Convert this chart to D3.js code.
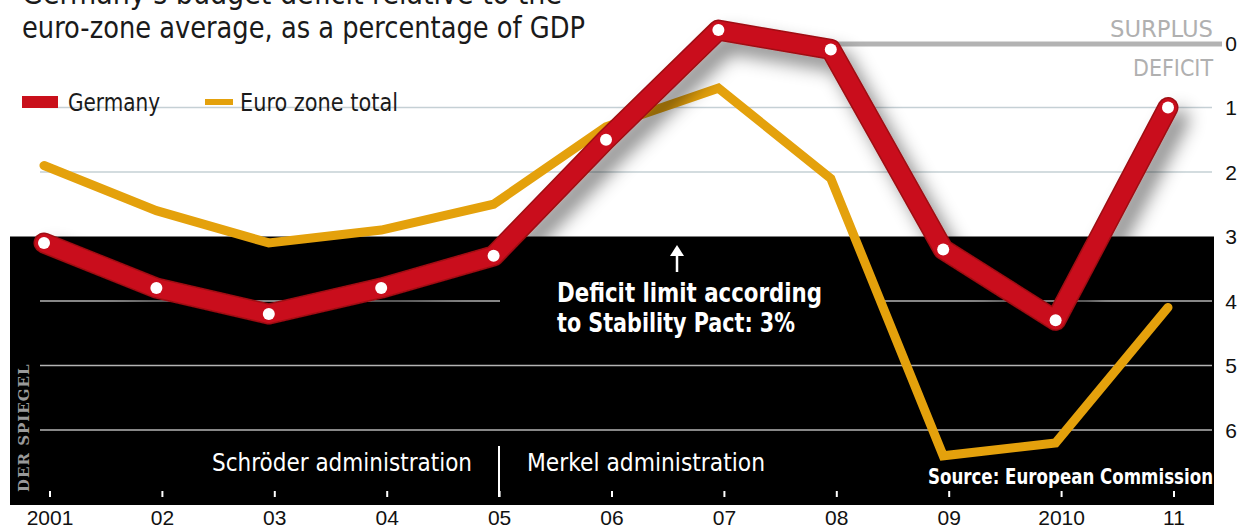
<!DOCTYPE html>
<html><head><meta charset="utf-8">
<script src="https://cdn.jsdelivr.net/npm/d3@7/dist/d3.min.js"></script>
<style>
html,body{margin:0;padding:0;background:#fff;}
svg{display:block;}
.nar{font-family:"DejaVu Sans Condensed","DejaVu Sans",sans-serif;font-stretch:condensed;}
</style></head>
<body><svg id="c" width="1254" height="530"></svg>
<script>
const years = ["2001","02","03","04","05","06","07","08","09","2010","11"];
const germany = [3.1, 3.8, 4.2, 3.8, 3.3, 1.5, -0.2, 0.1, 3.2, 4.3, 1.0];
const eurozone = [1.9, 2.6, 3.1, 2.9, 2.5, 1.3, 0.7, 2.1, 6.4, 6.2, 4.1];
const yTicks = [0, 1, 2, 3, 4, 5, 6];
const titleLines = ["Germany's budget deficit relative to the", "euro-zone average, as a percentage of GDP"];
const legendItems = [{name:"Germany", key:"de"}, {name:"Euro zone total", key:"ez"}];

const RED = "#c9101b", YEL = "#e4a10c";
const svg = d3.select("#c");

function fit(sel, w) {
  sel.each(function(){
    const n = this.getComputedTextLength();
    if (n > 0) d3.select(this).attr("textLength", w).attr("lengthAdjust","spacingAndGlyphs");
  });
  return sel;
}

const x = d3.scalePoint().domain(years).range([44, 1168]);
const y = d3.scaleLinear().domain([0, 6]).range([43, 430]);

const defs = svg.append("defs");
const f = defs.append("filter").attr("id","sh").attr("x","-20%").attr("y","-20%").attr("width","140%").attr("height","160%");
f.append("feDropShadow").attr("dx",10).attr("dy",12).attr("stdDeviation",9).attr("flood-color","#000").attr("flood-opacity",0.45);

// black area below 3% limit
svg.append("rect").attr("x",10).attr("y",y(3)).attr("width",1204).attr("height",505 - y(3)).attr("fill","#000");

// gridlines in white area
svg.selectAll("line.gw").data([1,2]).join("line")
  .attr("x1",40).attr("x2",1212).attr("y1",d=>y(d)).attr("y2",d=>y(d))
  .attr("stroke","#c5d0d5").attr("stroke-width",1.5);
// gridlines in black area
svg.append("line").attr("x1",40).attr("x2",500).attr("y1",y(4)).attr("y2",y(4)).attr("stroke","#b4b4b4").attr("stroke-width",1.5);
svg.append("line").attr("x1",880).attr("x2",1212).attr("y1",y(4)).attr("y2",y(4)).attr("stroke","#b4b4b4").attr("stroke-width",1.5);
svg.selectAll("line.gb").data([5,6]).join("line")
  .attr("x1",40).attr("x2",1212).attr("y1",d=>y(d)).attr("y2",d=>y(d))
  .attr("stroke","#b4b4b4").attr("stroke-width",1.5);
// zero line
svg.append("line").attr("x1",835).attr("x2",1222).attr("y1",y(0)+1).attr("y2",y(0)+1).attr("stroke","#b3b3b3").attr("stroke-width",5);

fit(svg.append("text").attr("class","nar").attr("x",1110).attr("y",y(0)-6)
  .attr("font-size",23).attr("fill","#b0b0b0").text("SURPLUS"), 103);
fit(svg.append("text").attr("class","nar").attr("x",1133).attr("y",y(0)+33)
  .attr("font-size",23).attr("fill","#b0b0b0").text("DEFICIT"), 80);

// y axis labels
svg.selectAll("text.yt").data(yTicks).join("text")
  .attr("x",1231).attr("y",d=>y(d)).attr("dy","0.36em").attr("text-anchor","middle")
  .attr("font-family","Liberation Sans, Arial, sans-serif").attr("font-size",21).attr("fill","#111").text(d=>d);

// x axis ticks and labels
const tickOff = 6;
svg.selectAll("line.xt").data(years).join("line")
  .attr("x1",d=>x(d)+tickOff).attr("x2",d=>x(d)+tickOff).attr("y1",491).attr("y2",497)
  .attr("stroke","#fff").attr("stroke-width",2);
svg.selectAll("text.xl").data(years).join("text")
  .attr("x",d=>x(d)+tickOff).attr("y",525).attr("text-anchor","middle")
  .attr("font-family","Liberation Sans, Arial, sans-serif").attr("font-size",21).attr("fill","#111").text(d=>d);

// administrations
svg.append("line").attr("x1",499).attr("x2",499).attr("y1",446).attr("y2",497).attr("stroke","#fff").attr("stroke-width",2);
fit(svg.append("text").attr("class","nar").attr("x",212).attr("y",471)
  .attr("font-size",24).attr("fill","#fff").text("Schröder administration"), 260);
fit(svg.append("text").attr("class","nar").attr("x",527).attr("y",471)
  .attr("font-size",24).attr("fill","#fff").text("Merkel administration"), 238);
fit(svg.append("text").attr("class","nar").attr("x",928).attr("y",484)
  .attr("font-size",21).attr("font-weight","bold").attr("fill","#fff").text("Source: European Commission"), 285);

// DER SPIEGEL
svg.append("text").attr("transform","translate(29,492) rotate(-90)")
  .attr("font-family","DejaVu Serif, serif").attr("font-weight","bold").attr("font-size",15)
  .attr("fill","#9a9a9a").attr("letter-spacing",1).text("DER SPIEGEL");

// annotation
svg.append("line").attr("x1",677).attr("x2",677).attr("y1",272).attr("y2",252).attr("stroke","#fff").attr("stroke-width",2.5);
svg.append("path").attr("d","M670,256 L677,245 L684,256 Z").attr("fill","#fff");
fit(svg.append("text").attr("class","nar").attr("x",557).attr("y",302).attr("font-size",27).attr("font-weight","bold").attr("fill","#fff").text("Deficit limit according"), 265);
fit(svg.append("text").attr("class","nar").attr("x",557).attr("y",332).attr("font-size",27).attr("font-weight","bold").attr("fill","#fff").text("to Stability Pact: 3%"), 238);

// lines
const line = d3.line().x((d,i)=>x(years[i])).y(d=>y(d));
svg.append("path").datum(eurozone).attr("d",line).attr("fill","none")
  .attr("stroke",YEL).attr("stroke-width",9).attr("stroke-linejoin","miter").attr("stroke-linecap","round");

const gDe = svg.append("g").attr("filter","url(#sh)");
gDe.append("path").datum(germany).attr("d",line).attr("fill","none")
  .attr("stroke","#9e0a12").attr("stroke-width",21).attr("stroke-linejoin","round").attr("stroke-linecap","round");
gDe.append("path").datum(germany).attr("d",line).attr("fill","none")
  .attr("stroke",RED).attr("stroke-width",18).attr("stroke-linejoin","round").attr("stroke-linecap","round");
svg.selectAll("circle.dot").data(germany).join("circle")
  .attr("cx",(d,i)=>x(years[i])).attr("cy",d=>y(d)).attr("r",6).attr("fill","#fff");

// title
const tt = svg.selectAll("text.title").data(titleLines).join("text").attr("class","nar")
  .attr("x",22).attr("y",(d,i)=>4 + i*34).attr("font-size",31).attr("fill","#1a1a1a").text(d=>d);
fit(tt.filter((d,i)=>i===1), 563);
fit(tt.filter((d,i)=>i===0), 540);

// legend
const lg = svg.append("g");
lg.append("rect").attr("x",22).attr("y",96).attr("width",36).attr("height",12).attr("fill",RED);
fit(lg.append("text").attr("class","nar").attr("x",68).attr("y",111).attr("font-size",25).attr("fill","#1a1a1a").text(legendItems[0].name), 92);
lg.append("rect").attr("x",205).attr("y",99).attr("width",28).attr("height",6).attr("fill",YEL);
fit(lg.append("text").attr("class","nar").attr("x",240).attr("y",111).attr("font-size",25).attr("fill","#1a1a1a").text(legendItems[1].name), 158);
</script></body></html>
